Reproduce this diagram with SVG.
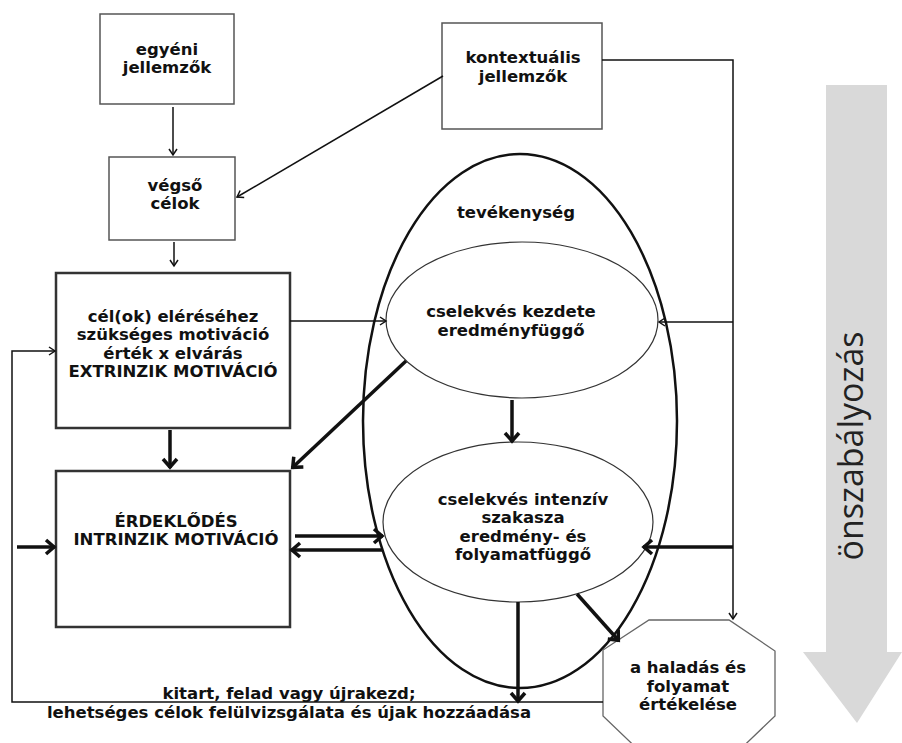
<svg xmlns="http://www.w3.org/2000/svg" width="902" height="743" viewBox="0 0 902 743">
<defs>
<style>
.t{font-family:"DejaVu Sans","Liberation Sans",sans-serif;font-weight:bold;font-size:16.5px;fill:#111;text-anchor:middle}
.box{fill:#fff;stroke:#555;stroke-width:1.5}
.bbox{fill:#fff;stroke:#333;stroke-width:2.5}
.thin{fill:none;stroke:#111;stroke-width:1.5;marker-end:url(#ah)}
.thick{fill:none;stroke:#111;stroke-width:3.5;marker-end:url(#ahb)}
</style>
<marker id="ah" markerUnits="userSpaceOnUse" markerWidth="14" markerHeight="14" viewBox="-10 -7 12 14" refX="0" refY="0" orient="auto">
<path d="M-6,-4 L0,0 L-6,4" fill="none" stroke="#111" stroke-width="1.5"/>
</marker>
<marker id="ahb" markerUnits="userSpaceOnUse" markerWidth="20" markerHeight="20" viewBox="-14 -10 16 20" refX="0" refY="0" orient="auto">
<path d="M-9,-7 L-1,0 L-9,7" fill="none" stroke="#111" stroke-width="3.5"/>
</marker>
</defs>
<rect width="902" height="743" fill="#fff"/>

<g id="onszabalyozas">
<path d="M826,85 H887 V652 H902 L857,723 L803,652 H826 Z" fill="#d9d9d9"/>
<text transform="translate(863,446) rotate(-90)" font-family="'Open Sans','Noto Sans',sans-serif" font-size="34" fill="#222" text-anchor="middle">önszabályozás</text>
</g>

<g id="tevekenyseg">
<ellipse cx="520" cy="421" rx="157" ry="267" fill="#fff" stroke="#111" stroke-width="2.5"/>
<text class="t" x="516" y="218">tevékenység</text>
</g>

<g id="egyeni">
<rect class="box" x="100" y="14" width="134" height="90"/>
<text class="t" x="167" y="55">egyéni</text>
<text class="t" x="167" y="73">jellemzők</text>
</g>

<g id="vegso">
<rect class="box" x="109" y="157" width="126" height="83"/>
<text class="t" x="175" y="191">végső</text>
<text class="t" x="175" y="209">célok</text>
</g>

<g id="kontextualis">
<rect class="box" x="442" y="23" width="160" height="106"/>
<text class="t" x="523" y="63">kontextuális</text>
<text class="t" x="523" y="82">jellemzők</text>
</g>

<g id="extrinzik">
<rect class="bbox" x="56" y="273" width="234" height="155"/>
<text class="t" x="173" y="321.5">cél(ok) eléréséhez</text>
<text class="t" x="173" y="340">szükséges motiváció</text>
<text class="t" x="173" y="358.5">érték x elvárás</text>
<text class="t" x="173" y="377">EXTRINZIK MOTIVÁCIÓ</text>
</g>

<g id="intrinzik">
<rect class="bbox" x="56" y="471" width="234" height="156"/>
<text class="t" x="176" y="527">ÉRDEKLŐDÉS</text>
<text class="t" x="176" y="545">INTRINZIK MOTIVÁCIÓ</text>
</g>

<g id="kezdete">
<ellipse cx="522" cy="320" rx="136" ry="78" fill="#fff" stroke="#333" stroke-width="1.2"/>
<text class="t" x="511" y="317">cselekvés kezdete</text>
<text class="t" x="511" y="336">eredményfüggő</text>
</g>

<g id="intenziv">
<ellipse cx="518" cy="522" rx="135" ry="80" fill="#fff" stroke="#333" stroke-width="1.2"/>
<text class="t" x="523" y="505">cselekvés intenzív</text>
<text class="t" x="523" y="523">szakasza</text>
<text class="t" x="523" y="542">eredmény- és</text>
<text class="t" x="523" y="560">folyamatfüggő</text>
</g>

<g id="ertekeles">
<polygon points="649,620 729,620 775,651 775,716 729,760 649,760 603,716 603,650" fill="#fff" stroke="#666" stroke-width="1.3"/>
<text class="t" x="688" y="673">a haladás és</text>
<text class="t" x="688" y="692">folyamat</text>
<text class="t" x="688" y="710">értékelése</text>
</g>

<g id="connectors">
<line class="thin" x1="173" y1="107" x2="173" y2="155"/>
<line class="thin" x1="174" y1="242" x2="174" y2="266"/>
<line class="thin" x1="443" y1="76" x2="237" y2="197"/>
<polyline class="thin" points="602,60 733,60 733,619"/>
<line class="thin" x1="733" y1="322" x2="659" y2="322"/>
<line class="thick" x1="733" y1="547" x2="643" y2="547"/>
<line class="thin" x1="290" y1="321" x2="386" y2="321"/>
<polyline class="thin" points="603,702 12,702 12,351 55,351"/>
<line class="thick" x1="17" y1="547" x2="55" y2="547"/>
<line class="thick" x1="170" y1="430" x2="170" y2="468"/>
<line class="thick" x1="406" y1="361" x2="292" y2="468"/>
<line class="thick" x1="512" y1="400" x2="512" y2="442"/>
<line class="thick" x1="295" y1="536" x2="383" y2="536"/>
<line class="thick" x1="383" y1="550" x2="291" y2="550"/>
<line class="thick" x1="518" y1="602" x2="518" y2="702"/>
<line class="thick" x1="577" y1="594" x2="619" y2="641"/>
</g>

<g id="bottom-label">
<text class="t" x="289" y="699">kitart, felad vagy újrakezd;</text>
<text class="t" x="289" y="718">lehetséges célok felülvizsgálata és újak hozzáadása</text>
</g>
</svg>
